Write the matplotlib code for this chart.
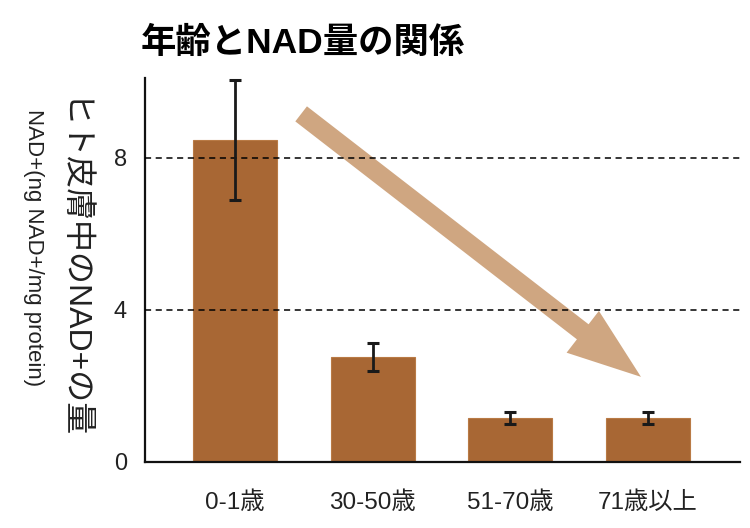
import matplotlib.pyplot as plt
import numpy as np

plt.rcParams['font.family'] = ['Liberation Sans', 'Noto Sans CJK JP', 'DejaVu Sans']
narrow = ['Liberation Sans Narrow', 'Liberation Sans', 'Noto Sans CJK JP']

# data
groups = ['0-1歳', '30-50歳', '51-70歳', '71歳以上']
nad = [8.47, 2.76, 1.16, 1.16]
nad_err = [1.57, 0.37, 0.16, 0.16]
yticks = [0, 4, 8]
# trend arrow, in data coords (x = group index, y = NAD+)
arrow_start = (0.48, 9.16)
arrow_end = (2.95, 2.24)

bar_color = '#a86734'
arrow_color = '#cfa681'

fig = plt.figure(figsize=(7.5, 5.28), dpi=100)
ax = fig.add_axes([0.1933, 0.125, 0.7934, 0.727])

x = np.arange(len(groups))
ax.bar(x, nad, width=0.61, color=bar_color, edgecolor='#b97a45', linewidth=0.8, zorder=2)
ax.errorbar(x, nad, yerr=nad_err, fmt='none', ecolor='#1a1a1a', elinewidth=2.0,
            capsize=4.5, capthick=2.2, zorder=5)

# big trend arrow
ax.annotate('', xy=arrow_end, xytext=arrow_start,
            arrowprops=dict(arrowstyle='simple,head_length=53,head_width=38,tail_width=13.7',
                            mutation_scale=1, color=arrow_color, shrinkA=0, shrinkB=0,
                            linewidth=0),
            zorder=3)

for yv in yticks[1:]:
    ax.axhline(yv, color='black', linestyle=(0, (4, 3)), linewidth=1.1, zorder=4)

ax.set_xlim(-0.655, 3.67)
ax.set_ylim(0, 10.1)
ax.set_xticks(x)
ax.set_xticklabels(groups, fontsize=17.5, color='#222222')
ax.set_yticks(yticks)
ax.set_yticklabels([str(v) for v in yticks], fontsize=17, color='#222222')
ax.tick_params(axis='x', length=0, pad=21)
ax.tick_params(axis='y', length=0, pad=13)

for s in ['top', 'right']:
    ax.spines[s].set_visible(False)
for s in ['left', 'bottom']:
    ax.spines[s].set_linewidth(1.6)
    ax.spines[s].set_color('#111111')

fig.text(0.187, 0.917, '年齢とNAD量の関係', fontsize=25.5, fontweight='bold',
         ha='left', va='center')
fig.text(0.093, 0.489, 'ヒト皮膚中のNAD+の量', fontsize=23, rotation=270,
         ha='center', va='center', color='#222222', family=narrow)
fig.text(0.045, 0.532, 'NAD+(ng NAD+/mg protein)', fontsize=16, rotation=270,
         ha='center', va='center', color='#222222', family=narrow)

fig.savefig('out.png', dpi=100)
